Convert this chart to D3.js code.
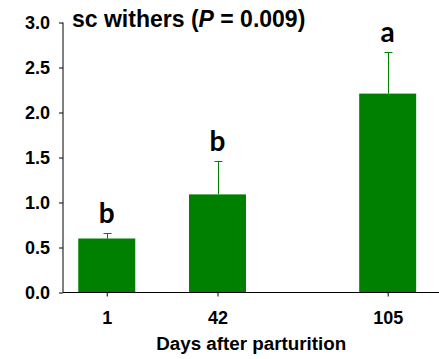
<!DOCTYPE html>
<html>
<head>
<meta charset="utf-8">
<script src="https://cdn.jsdelivr.net/npm/d3@7"></script>
<style>
  html, body { margin: 0; padding: 0; background: #fff; }
  svg { display: block; }
  text { font-family: "Liberation Sans", Arial, sans-serif; font-weight: bold; fill: #000; }
</style>
</head>
<body>
<svg id="chart" width="439" height="359"></svg>
<script>
// Sampling days (numeric x positions) and their tick labels
const days = [1, 42, 105];
const dayLabels = ["1", "42", "105"];
// Mean values and upper error (mean + SE)
const means = [0.60, 1.09, 2.21];
const upperErr = [0.66, 1.46, 2.67];
// Significance letters
const letters = ["b", "b", "a"];
// Y ticks
const yTicks = [0, 0.5, 1.0, 1.5, 2.0, 2.5, 3.0];

const svg = d3.select("#chart");
const green = "#008000";

const x = d3.scaleLinear().domain([-15.2, 124]).range([63, 439]);
const y = d3.scaleLinear().domain([0, 3]).range([292.5, 22.5]);
const barW = 57;

// Bars
svg.append("g").selectAll("rect")
  .data(days)
  .join("rect")
  .attr("x", (d) => x(d) - barW / 2)
  .attr("width", barW)
  .attr("y", (d, i) => y(means[i]))
  .attr("height", (d, i) => y(0) - y(means[i]))
  .attr("fill", green);

// Upper error whiskers
const eg = svg.append("g").attr("stroke", green).attr("stroke-width", 1);
days.forEach((d, i) => {
  const cx = Math.round(x(d)) + 0.5;
  eg.append("line").attr("x1", cx).attr("x2", cx)
    .attr("y1", y(means[i])).attr("y2", y(upperErr[i]));
  eg.append("line").attr("x1", cx - 4).attr("x2", cx + 4)
    .attr("y1", Math.round(y(upperErr[i])) + 0.5).attr("y2", Math.round(y(upperErr[i])) + 0.5);
});

// Significance letters
svg.append("g").selectAll("text")
  .data(days)
  .join("text")
  .attr("x", (d) => x(d))
  .attr("y", (d, i) => y(upperErr[i]) - 10)
  .attr("text-anchor", "middle")
  .style("font-family", "Lato, 'Open Sans', sans-serif")
  .style("font-weight", "bold")
  .style("font-size", "28px")
  .text((d, i) => letters[i]);

// Y axis
const yAxis = svg.append("g")
  .attr("transform", "translate(63,0)")
  .call(d3.axisLeft(y).tickValues(yTicks).tickFormat(d3.format(".1f")).tickSize(4).tickPadding(9));
yAxis.select(".domain").attr("d", `M0,${y(3)}V${y(0)}`);
yAxis.selectAll("text")
  .style("font-size", "18px")
  .style("font-weight", "bold")
  .style("font-family", "'Liberation Sans', Arial, sans-serif")
  .attr("dy", "0.35em");

// X axis
const xAxis = svg.append("g")
  .attr("transform", `translate(0,${y(0)})`)
  .call(d3.axisBottom(x).tickValues(days).tickFormat((d, i) => dayLabels[i]).tickSize(4).tickPadding(15));
xAxis.select(".domain").attr("d", `M63,0H439`);
xAxis.selectAll("text")
  .style("font-size", "18px")
  .style("font-weight", "bold")
  .style("font-family", "'Liberation Sans', Arial, sans-serif");

svg.selectAll(".domain, .tick line").attr("stroke", "#000").attr("stroke-width", 1);

// Axis title
svg.append("text")
  .attr("x", x(days[0]) + (x(days[2]) - x(days[0])) / 2 + 4)
  .attr("y", 350)
  .attr("text-anchor", "middle")
  .style("font-size", "18.8px")
  .style("font-weight", "bold")
  .text("Days after parturition");

// Chart title
const title = svg.append("text")
  .attr("x", 72)
  .attr("y", 27)
  .style("font-size", "23px")
  .style("font-weight", "bold");
title.append("tspan").text("sc withers (");
title.append("tspan").style("font-style", "italic").text("P");
title.append("tspan").text(" = 0.009)");
</script>
</body>
</html>
